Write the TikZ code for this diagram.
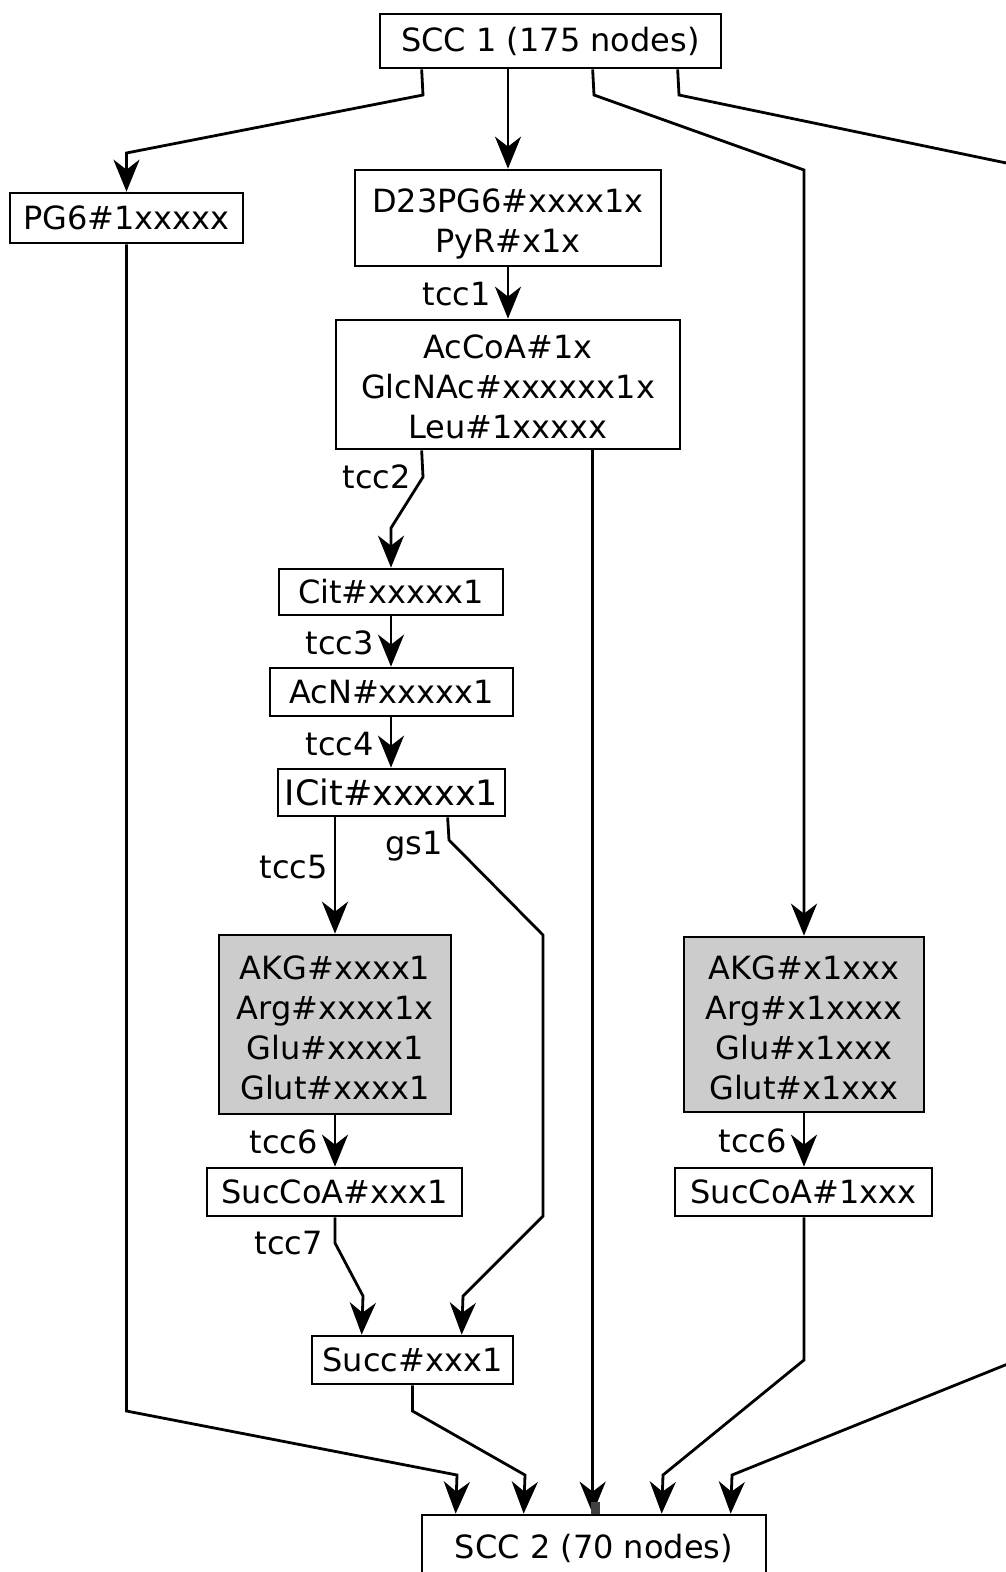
\documentclass[tikz,border=0pt]{standalone}
\usepackage{fontspec}
\setmainfont{DejaVu Sans}
\usetikzlibrary{arrows.meta}
\begin{document}
\begin{tikzpicture}[x=1pt,y=-1pt,
  every node/.style={font=\fontsize{32}{40}\selectfont},
  box/.style={draw,line width=2.7pt,inner sep=0pt,align=center},
  hot/.style={box,fill=black!20},
  arr/.style={line width=2.8pt,-{Stealth[length=32pt,width=26pt,inset=10pt]}},
  lbl/.style={anchor=base east,inner sep=0pt}]
\useasboundingbox (0,0) rectangle (1006,1572);

% boxes
\node[box,minimum width=341,minimum height=54] (scc1) at (550.5,41) {SCC 1 (175 nodes)};
\node[box,minimum width=233,minimum height=50] (pg6) at (126.5,218) {PG6\#1xxxxx};
\node[box,minimum width=306,minimum height=96,text height=75pt] (d23) at (508,218) {D23PG6\#xxxx1x\\PyR\#x1x};
\node[box,minimum width=344,minimum height=129,text height=108pt] (accoa) at (508,384.5) {AcCoA\#1x\\GlcNAc\#xxxxxx1x\\Leu\#1xxxxx};
\node[box,minimum width=224,minimum height=46] (cit) at (391,592) {Cit\#xxxxx1};
\node[box,minimum width=243,minimum height=48] (acn) at (391.5,692) {AcN\#xxxxx1};
\node[box,minimum width=227,minimum height=47,font=\fontsize{35}{40}\selectfont] (icit) at (391.5,792.5) {ICit\#xxxxx1};
\node[hot,minimum width=232,minimum height=179,text height=151pt] (akgl) at (335,1024.5) {AKG\#xxxx1\\Arg\#xxxx1x\\Glu\#xxxx1\\Glut\#xxxx1};
\node[box,minimum width=255,minimum height=48] (sucl) at (334.5,1192) {SucCoA\#xxx1};
\node[box,minimum width=201,minimum height=48] (succ) at (412.5,1360) {Succ\#xxx1};
\node[hot,minimum width=240,minimum height=175,text height=151pt] (akgr) at (804,1024.5) {AKG\#x1xxx\\Arg\#x1xxxx\\Glu\#x1xxx\\Glut\#x1xxx};
\node[box,minimum width=257,minimum height=48] (sucr) at (803.5,1192) {SucCoA\#1xxx};
\node[box,minimum width=344,minimum height=66] (scc2) at (594,1548) {SCC 2 (70 nodes)};

% connectors out of SCC 1
\draw[arr] ([xshift=43]scc1.south west) -- (423,95) -- (126.5,153) -- (pg6.north);
\draw[arr] (d23.north |- scc1.south) -- (d23.north);
\draw[arr] ([xshift=214]scc1.south west) -- (594,95) -- (804,170) -- (akgr.north);
\draw[arr] ([xshift=299]scc1.south west) -- (679,95) -- (1040,170) -- (1040,1351) -- (732,1475) -- ([xshift=310]scc2.north west);

% central chain
\draw[arr] (d23.south) -- (accoa.north);
\node[lbl] (l1) at (491,305) {tcc1};
\draw[arr] ([xshift=87]accoa.south west) -- (423,477) -- (391,528) -- (cit.north);
\node[lbl] (l2) at (411,488) {tcc2};
\draw[arr] ([xshift=258]accoa.south west) -- ([xshift=172]scc2.north west);
\draw[arr] (cit.south) -- (cit.south |- acn.north);
\node[lbl] (l3) at (374,654) {tcc3};
\draw[arr] (acn.south -| cit.south) -- (cit.south |- icit.north);
\node[lbl] (l4) at (374,755) {tcc4};
\draw[arr] (akgl.north |- icit.south) -- (akgl.north);
\node[lbl] (l5) at (328,878) {tcc5};
\draw[arr] ([xshift=171]icit.south west) -- (449,840) -- (543,935) -- (543,1216) -- (463,1296) -- ([xshift=151]succ.north west);
\node[lbl] (l6) at (443,854) {gs1};
\draw[arr] (akgl.south) -- (sucl.north -| akgl.south);
\node[lbl] (l7) at (318,1153) {tcc6};
\draw[arr] (sucl.south -| akgl.south) -- (335,1243) -- (363,1296) -- ([xshift=51]succ.north west);
\node[lbl] (l8) at (323,1254) {tcc7};
\draw[arr] (akgr.south) -- (sucr.north -| akgr.south);
\node[lbl] (l9) at (787,1152) {tcc6};

% connectors into SCC 2
\draw[arr] (sucr.south -| akgr.south) -- (804,1360) -- (663,1475) -- ([xshift=241]scc2.north west);
\draw[arr] (pg6.south) -- (126.5,1411) -- (457,1475) -- ([xshift=35]scc2.north west);
\draw[arr] (succ.south) -- (412.5,1411) -- (525,1475) -- ([xshift=103]scc2.north west);

% small mark on the central arrow
\fill[black!75] (591,1502) rectangle (600,1514);
\end{tikzpicture}
\end{document}
